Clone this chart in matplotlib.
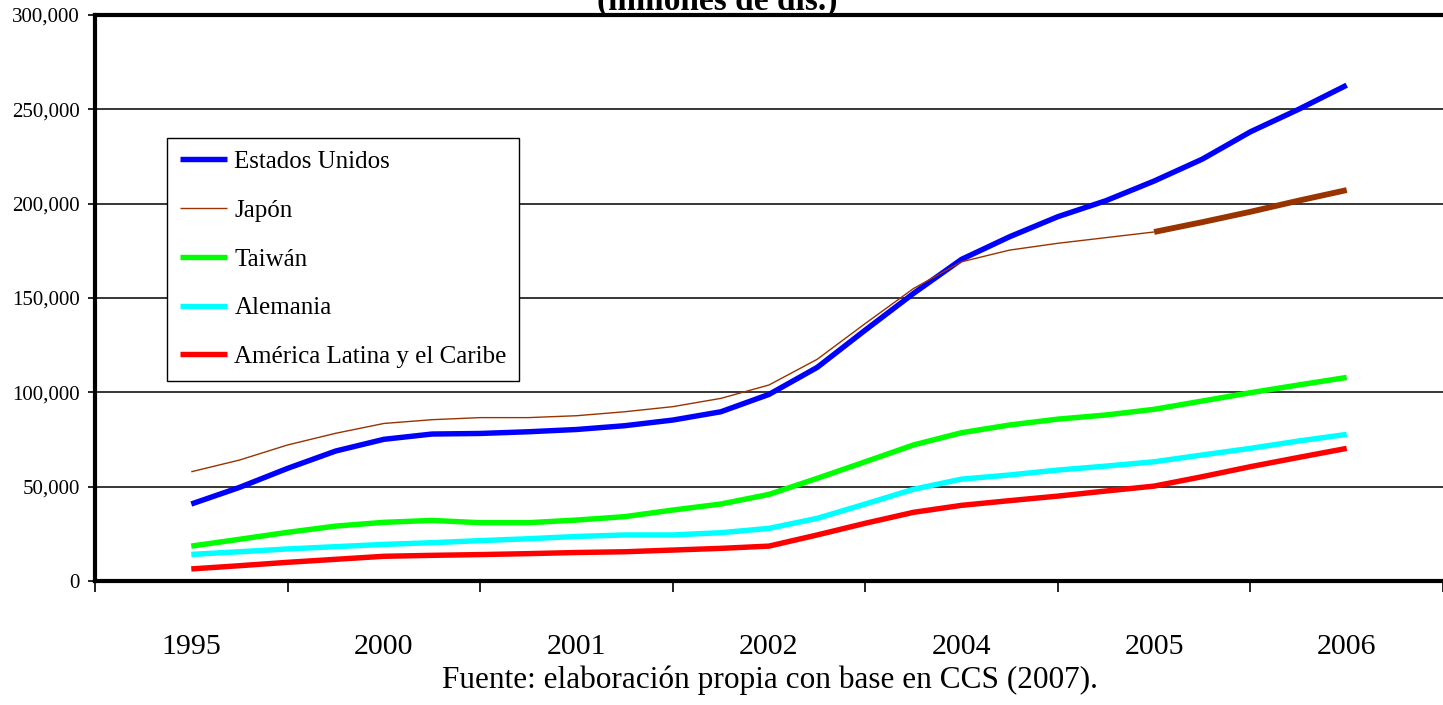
import matplotlib
matplotlib.use("Agg")
import matplotlib.pyplot as plt
from matplotlib.ticker import FuncFormatter

plt.rcParams['font.family'] = ['Liberation Serif', 'DejaVu Serif']

# ---- data (millones de dólares) ----
year_labels = ['1995', '2000', '2001', '2002', '2004', '2005', '2006']
label_positions = [0, 4, 8, 12, 16, 20, 24]
points = list(range(25))

estados_unidos = [40800, 49600, 59700, 68900, 75100, 77900, 78200, 79100, 80300,
                  82300, 85300, 89700, 98900, 113200, 133000, 152400, 170500,
                  182500, 193100, 201600, 212000, 223600, 238100, 250000, 262800]
japon = [57900, 64100, 72100, 78300, 83500, 85500, 86600, 86600, 87600, 89700,
         92400, 96800, 103900, 117500, 136500, 155000, 169200, 175400, 179000,
         182000, 185000, 190200, 195700, 201600, 207200]
taiwan = [18500, 22100, 25800, 29100, 31100, 32100, 30900, 30900, 32300, 34100,
          37600, 40800, 45900, 54400, 63200, 72100, 78600, 82700, 85800, 88000,
          91000, 95400, 99800, 103900, 107900]
alemania = [14100, 15500, 17000, 18200, 19400, 20300, 21400, 22400, 23600, 24400,
            24400, 25600, 27900, 33200, 40800, 48600, 54000, 56200, 58800, 60900,
            63200, 66800, 70300, 74200, 77700]
america_latina = [6400, 8100, 9900, 11500, 13100, 13600, 14000, 14500, 15100,
                  15500, 16400, 17300, 18500, 24400, 30600, 36400, 40100, 42600,
                  45000, 47700, 50300, 55300, 60600, 65500, 70300]
japon_thick_from = 20

fig = plt.figure(figsize=(14.43, 7.05), dpi=100)
ax = fig.add_axes([95 / 1443, 1 - 581 / 705, 1 - 95 / 1443, (581 - 15) / 705])

lkw = dict(solid_capstyle='butt', solid_joinstyle='round', zorder=3)
ax.plot(points, estados_unidos, color='#0000FF', lw=3.9, label='Estados Unidos', **lkw)
ax.plot(points[:japon_thick_from + 1], japon[:japon_thick_from + 1], color='#993300',
        lw=1.0, label='Japón', **lkw)
ax.plot(points[japon_thick_from:], japon[japon_thick_from:], color='#993300', lw=4.2, **lkw)
ax.plot(points, taiwan, color='#00FF00', lw=3.9, label='Taiwán', **lkw)
ax.plot(points, alemania, color='#00FFFF', lw=3.9, label='Alemania', **lkw)
ax.plot(points, america_latina, color='#FF0000', lw=3.9,
        label='América Latina y el Caribe', **lkw)

ax.set_xlim(-2, 25.9)
ax.set_ylim(0, 300000)
ax.set_yticks(range(0, 300001, 50000))
ax.yaxis.set_major_formatter(FuncFormatter(lambda v, p: f'{int(v):,}'))
ax.tick_params(axis='y', direction='out', length=5, width=1.2, pad=6,
               labelsize=15, colors='black')
ax.yaxis.grid(True, color='black', lw=1.1, zorder=1)
ax.set_axisbelow(True)

ax.set_xticks([-2, 2, 6, 10, 14, 18, 22, 26])
ax.set_xticklabels([])
ax.tick_params(axis='x', which='major', direction='out', length=8, width=1.2)
ax.set_xticks(label_positions, minor=True)
ax.set_xticklabels(year_labels, minor=True)
ax.tick_params(axis='x', which='minor', length=0, pad=38, labelsize=21.5)

for s in ['left', 'bottom', 'top']:
    ax.spines[s].set_linewidth(3.0)
    ax.spines[s].set_color('black')
ax.spines['right'].set_visible(False)

leg = ax.legend(loc='upper left', bbox_to_anchor=(167 / 1443, 1 - 138 / 705),
                bbox_transform=fig.transFigure, borderaxespad=0, fancybox=False,
                edgecolor='black', framealpha=1, fontsize=18, handlelength=1.9,
                handletextpad=0.3, borderpad=0.5, labelspacing=1.05)
leg.get_frame().set_linewidth(1.0)

fig.text(717 / 1443, 1 - 10 / 705, '(millones de dls.)', ha='center', va='baseline',
         fontsize=24, fontweight='bold')
fig.text(770 / 1443, 1 - 688 / 705, 'Fuente: elaboración propia con base en CCS (2007).',
         ha='center', va='baseline', fontsize=22.5)

fig.savefig('out.png', dpi=100)
